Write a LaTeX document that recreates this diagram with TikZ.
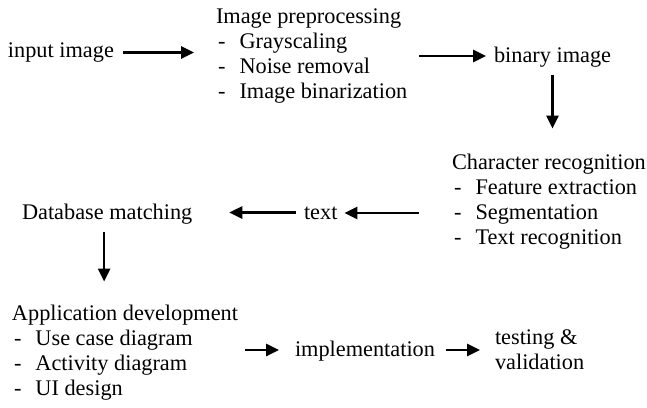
\documentclass[tikz,border=0pt]{standalone}
\usepackage{fontspec}
\setmainfont{Liberation Serif}
\usetikzlibrary{arrows.meta,calc}

% one item of a bulleted step list
\newcommand{\stepitem}[1]{\makebox[23.5pt][l]{\hspace{2pt}-}#1}

\tikzset{
  lbl/.style={inner sep=0pt, outer sep=0pt, anchor=base west, align=left,
              font=\fontsize{22.3}{25}\selectfont},
  arr/.style={line width=2.6pt, -{Triangle[length=13pt,width=12pt]}},
}

\begin{document}
\begin{tikzpicture}[x=1pt,y=-1pt]
\useasboundingbox (0,0) rectangle (647,407);

% stages of the pipeline (multi-line labels sit on their last baseline)
\node[lbl] (inp) at (8,57) {input image};
\node[lbl] (pre) at (216,98) {Image preprocessing\\
  \stepitem{Grayscaling}\\
  \stepitem{Noise removal}\\
  \stepitem{Image binarization}};
\node[lbl] (bin) at (494,62) {binary image};
\node[lbl] (chr) at (452,244) {Character recognition\\
  \stepitem{Feature extraction}\\
  \stepitem{Segmentation}\\
  \stepitem{Text recognition}};
\node[lbl] (txt) at (304,219) {text};
\node[lbl] (db) at (22,219) {Database matching};
\node[lbl] (app) at (12,395) {Application development\\
  \stepitem{Use case diagram}\\
  \stepitem{Activity diagram}\\
  \stepitem{UI design}};
\node[lbl] (imp) at (295,356) {implementation};
\node[lbl] (tst) at (495,369) {testing \&\\validation};

% connectors between the stages
\draw[arr] ($(inp.base east)+(9,-4.5)$) -- ($(pre.west |- inp.base)+(-22,-4.5)$);
\draw[arr] ($(pre.east |- bin.base)+(12,-6)$) -- ($(bin.base west)+(-8,-6)$);
\draw[arr] ($(bin.south)+(0,8)$) -- ($(bin.south |- chr.north)+(0,-25)$);
\draw[arr] ($(chr.west |- txt.base)+(-33,-6)$) -- ($(txt.base east)+(7,-6)$);
\draw[arr] ($(txt.base west)+(-8,-6.5)$) -- ($(db.base east)+(37,-6.5)$);
\draw[arr] ($(db.south)+(-3,8)$) -- ($(db.south |- app.north)+(-3,-23)$);
\draw[arr] ($(app.east |- imp.base)+(7,-6)$) -- ($(imp.base west)+(-16,-6)$);
\draw[arr] ($(imp.base east)+(11,-6)$) -- ($(tst.west |- imp.base)+(-15,-6)$);
\end{tikzpicture}
\end{document}
